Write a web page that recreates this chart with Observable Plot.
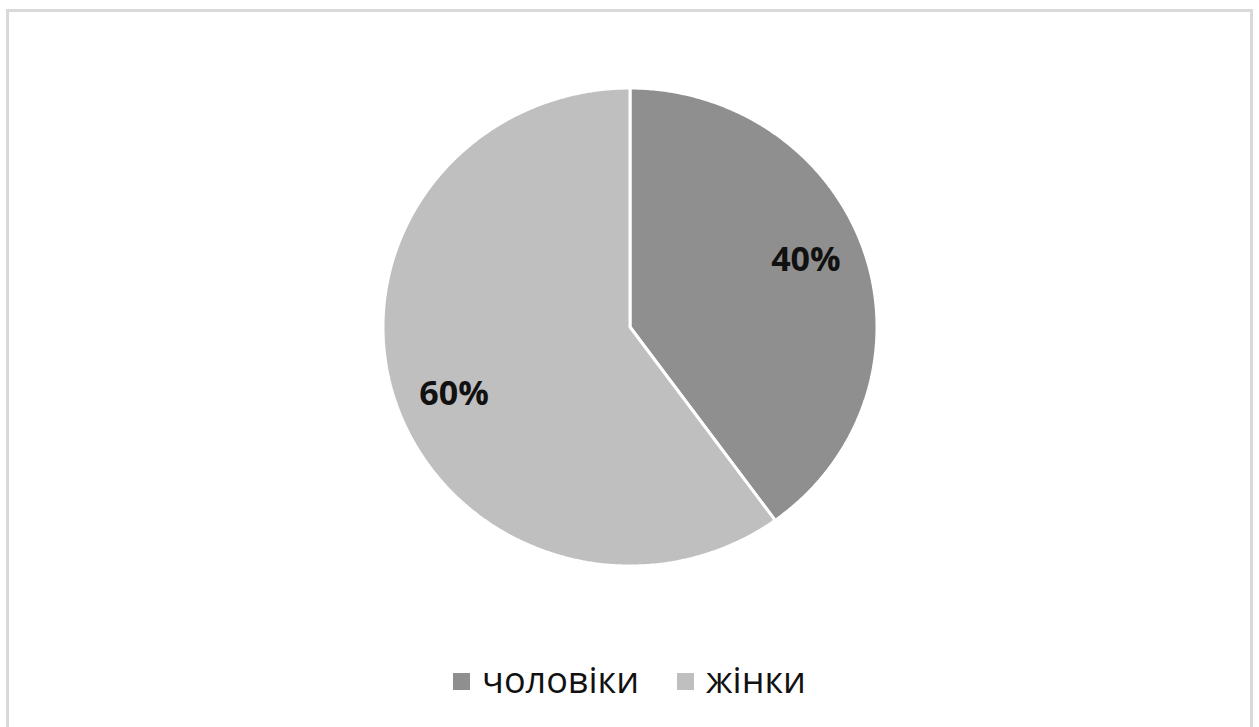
<!DOCTYPE html>
<html>
<head>
<meta charset="utf-8">
<script src="https://cdn.jsdelivr.net/npm/d3@7"></script>
<script src="https://cdn.jsdelivr.net/npm/@observablehq/plot@0.6"></script>
<style>
  html, body { margin: 0; padding: 0; background: #fff; }
  body { width: 1259px; height: 727px; position: relative; overflow: hidden; font-family: "Open Sans", sans-serif; }
  #frame { position: absolute; left: 6px; top: 9px; width: 1241px; height: 740px; border: 3px solid #d9d9d9; box-sizing: content-box; }
  #chart { position: absolute; left: 0; top: 0; }
  #legend { position: absolute; left: 0; top: 655px; width: 1259px; display: flex; justify-content: center; align-items: center; font-size: 36px; color: #111; }
  .item { display: flex; align-items: center; margin: 0 19px; }
  .sw { width: 17px; height: 17px; margin-right: 12px; margin-top: 4px; }
</style>
</head>
<body>
<div id="frame"></div>
<div id="chart"></div>
<div id="legend"></div>
<script>
const categories = ["чоловіки", "жінки"];
const values = [40, 60];
const labels = ["40%", "60%"];
const colors = ["#8f8f8f", "#bfbfbf"];

const total = d3.sum(values);
const slices = [];
let acc = 0;
categories.forEach((c, i) => {
  const a0 = acc / total * 2 * Math.PI;
  acc += values[i];
  const a1 = acc / total * 2 * Math.PI;
  slices.push({category: c, value: values[i], label: labels[i], a0, a1, mid: (a0 + a1) / 2});
});

const pts = [];
for (const s of slices) {
  pts.push({category: s.category, x: 0, y: 0});
  const n = Math.max(2, Math.ceil((s.a1 - s.a0) / (Math.PI / 360)));
  for (let k = 0; k <= n; k++) {
    const a = s.a0 + (s.a1 - s.a0) * k / n;
    pts.push({category: s.category, x: Math.sin(a), y: Math.cos(a)});
  }
  pts.push({category: s.category, x: 0, y: 0});
}

const labelR = 0.765;
const labelTurn = -0.06;
const labelData = slices.map(s => ({label: s.label, x: labelR * Math.sin(s.mid + labelTurn), y: labelR * Math.cos(s.mid + labelTurn)}));

const chart = Plot.plot({
  width: 1259,
  height: 640,
  marginLeft: 382.5,
  marginRight: 382.5,
  marginTop: 87.5,
  marginBottom: 74.5,
  x: {domain: [-1, 1], axis: null},
  y: {domain: [-1, 1], axis: null},
  color: {domain: categories, range: colors},
  style: {background: "transparent", overflow: "visible"},
  marks: [
    Plot.line(pts, {x: "x", y: "y", z: "category", fill: "category", stroke: "white", strokeWidth: 3, strokeLinejoin: "miter", curve: "linear"}),
    Plot.text(labelData, {x: "x", y: "y", text: "label", fontSize: 34, fontWeight: "bold", fill: "#111", fontFamily: "Open Sans"})
  ]
});
document.getElementById("chart").appendChild(chart);

const legend = document.getElementById("legend");
categories.forEach((c, i) => {
  const item = document.createElement("div");
  item.className = "item";
  const sw = document.createElement("div");
  sw.className = "sw";
  sw.style.background = colors[i];
  const t = document.createElement("span");
  t.textContent = c;
  item.appendChild(sw);
  item.appendChild(t);
  legend.appendChild(item);
});
</script>
</body>
</html>
